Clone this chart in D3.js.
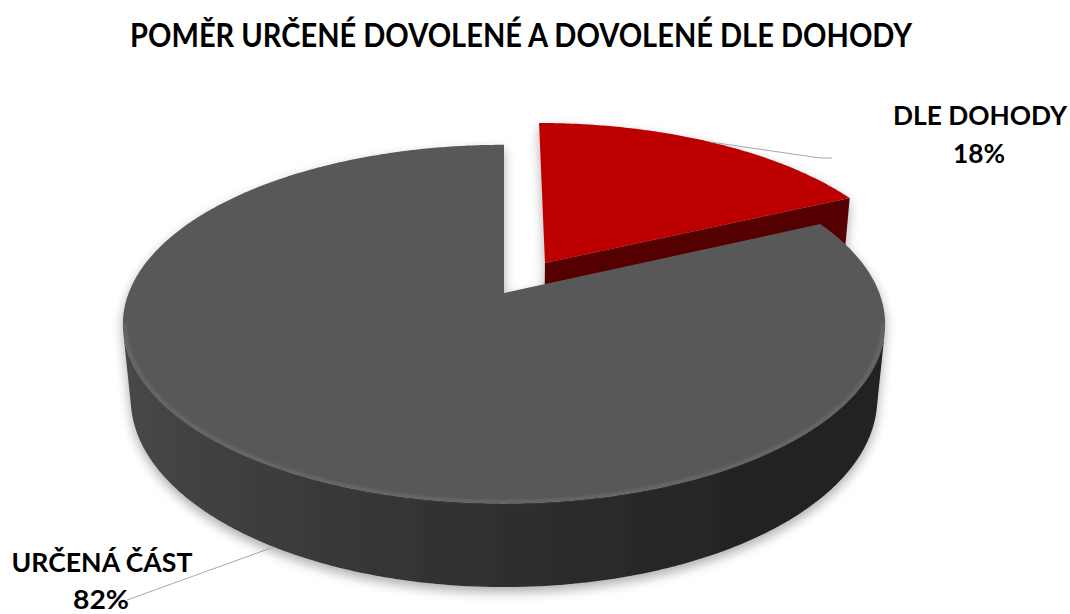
<!DOCTYPE html>
<html>
<head>
<meta charset="utf-8">
<script src="https://cdn.jsdelivr.net/npm/d3@7"></script>
<style>
  body { margin: 0; background: #fff; }
  svg { display: block; }
</style>
</head>
<body>
<div id="chart"></div>
<script>
// data
const categories = ['DLE DOHODY', 'URČENÁ ČÁST']
const values = [18, 82]
const explode = [0.21, 0]
const title = 'POMĚR URČENÉ DOVOLENÉ A DOVOLENÉ DLE DOHODY'

const topColors = ['#bc0000', '#595959']
const sideColors = ['#540000', 'url(#greySide)']

const width = 1070
const height = 614

const svg = d3
  .select('#chart')
  .append('svg')
  .attr('width', width)
  .attr('height', height)

const defs = svg.append('defs')

const grad = defs
  .append('linearGradient')
  .attr('id', 'greySide')
  .attr('gradientUnits', 'userSpaceOnUse')
  .attr('x1', 125).attr('x2', 885).attr('y1', 0).attr('y2', 0)
grad.append('stop').attr('offset', 0).attr('stop-color', '#474747')
grad.append('stop').attr('offset', 0.3).attr('stop-color', '#373737')
grad.append('stop').attr('offset', 0.6).attr('stop-color', '#2b2b2b')
grad.append('stop').attr('offset', 0.85).attr('stop-color', '#222222')
grad.append('stop').attr('offset', 1).attr('stop-color', '#202020')

const shadow = defs
  .append('filter')
  .attr('id', 'shadow')
  .attr('x', '-10%').attr('y', '-10%')
  .attr('width', '120%').attr('height', '130%')
shadow.append('feGaussianBlur').attr('in', 'SourceAlpha').attr('stdDeviation', 6)
shadow.append('feOffset').attr('dy', 5).attr('result', 'blur')
shadow.append('feComponentTransfer')
  .append('feFuncA').attr('type', 'linear').attr('slope', 0.33)
const merge = shadow.append('feMerge')
merge.append('feMergeNode')
merge.append('feMergeNode').attr('in', 'SourceGraphic')

const soft = defs.append('filter').attr('id', 'soft')
soft.append('feGaussianBlur').attr('stdDeviation', 0.8)

// simple perspective camera looking down at the pie
const tilt = 27.6 * Math.PI / 180
const camDist = 5.11
const depth = 0.226
const cx = 504
const cy = 293
const camZ = -camDist * Math.cos(tilt)
const focal = d3.scaleLinear().domain([0, 1]).range([0, 1918])

function project(X, Y, Z) {
  const up = Z * Math.sin(tilt) + Y * Math.cos(tilt)
  const w = camDist + Z * Math.cos(tilt) - Y * Math.sin(tilt)
  return [cx + focal(X / w), cy - focal(up / w)]
}

function rim(a0, a1, Y, off, r = 1) {
  const n = Math.max(2, Math.ceil(Math.abs(a1 - a0) / (Math.PI / 360)))
  return d3.range(n + 1).map(i => {
    const a = a0 + (a1 - a0) * i / n
    return project(off[0] + r * Math.sin(a), Y, off[1] + r * Math.cos(a))
  })
}

// part of the outer wall that faces the camera
function wallRange(a0, a1, off) {
  const steps = d3.range(0, 721).map(i => a0 + (a1 - a0) * i / 720)
  const seen = steps.filter(a => {
    const s = Math.sin(a), c = Math.cos(a)
    return (-off[0] - s) * s + (camZ - off[1] - c) * c > 0
  })
  return seen.length ? [d3.min(seen), d3.max(seen)] : null
}

const line = d3.line()
const poly = pts => line(pts) + 'Z'

const pie = d3.pie().sort(null).value(d => d)
const arcs = pie(values).map((d, i) => {
  const mid = (d.startAngle + d.endAngle) / 2
  d.mid = mid
  d.off = [explode[i] * Math.sin(mid), explode[i] * Math.cos(mid)]
  return d
})

// far slices first
const order = arcs.slice().sort((a, b) => Math.cos(b.mid) - Math.cos(a.mid))

const pieG = svg.append('g').attr('filter', 'url(#shadow)')

order.forEach(d => {
  const g = pieG.append('g').attr('class', 'slice')
  const a0 = d.startAngle
  const a1 = d.endAngle
  const off = d.off

  // outer wall
  const wr = wallRange(a0, a1, off)
  if (wr) {
    g.append('path')
      .attr('d', poly(rim(wr[0], wr[1], 0, off).concat(rim(wr[1], wr[0], -depth, off))))
      .attr('fill', sideColors[d.index])
  }

  // cut faces that look toward the camera
  const faces = [
    { a: a0, n: [-Math.cos(a0), Math.sin(a0)] },
    { a: a1, n: [Math.cos(a1), -Math.sin(a1)] }
  ]
  faces.forEach(f => {
    const dot = -off[0] * f.n[0] + (camZ - off[1]) * f.n[1]
    if (dot <= 0.2) return
    const pts = [
      project(off[0], 0, off[1]),
      project(off[0] + Math.sin(f.a), 0, off[1] + Math.cos(f.a)),
      project(off[0] + Math.sin(f.a), -depth, off[1] + Math.cos(f.a)),
      project(off[0], -depth, off[1])
    ]
    g.append('path')
      .attr('d', poly(pts))
      .attr('fill', d.index === 0 ? '#540000' : '#2a2a2a')
  })

  // top
  g.append('path')
    .attr('d', poly([project(off[0], 0, off[1])].concat(rim(a0, a1, 0, off))))
    .attr('fill', topColors[d.index])

  // soft bevel highlight along the front rim
  const h0 = Math.max(a0, 100 * Math.PI / 180)
  const h1 = Math.min(a1, 260 * Math.PI / 180)
  if (h1 > h0) {
    g.append('path')
      .attr('d', line(rim(h0, h1, 0, off, 0.994)))
      .attr('fill', 'none')
      .attr('stroke', '#6e6e6e')
      .attr('stroke-width', 2)
      .attr('filter', 'url(#soft)')
  }
})

// labels
const pct = d3.format('.0%')
const total = d3.sum(values)

const labels = [
  { x: 980, y: 125, w: 174, px: 979, py: 163, pw: 52, lx: 832, ly: 158 },
  { x: 102, y: 572, w: 181, px: 101, py: 609, pw: 56, lx: 127, ly: 600 }
]

arcs.forEach(d => {
  const lab = labels[d.index]
  // red label hangs off its top rim, grey one off the bottom of the wall
  const anchor = d.index === 0
    ? project(d.off[0] + Math.sin(d.mid), 0, d.off[1] + Math.cos(d.mid))
    : project(d.off[0] + Math.sin(d.mid), -depth, d.off[1] + Math.cos(d.mid))
  const pts = d.index === 0
    ? [anchor, [lab.lx - 12, lab.ly], [lab.lx, lab.ly]]
    : [anchor, [lab.lx, lab.ly]]
  svg.append('path')
    .attr('d', line(pts))
    .attr('fill', 'none')
    .attr('stroke', '#a6a6a6')
    .attr('stroke-width', 1)

  svg.append('text')
    .attr('x', lab.x)
    .attr('y', lab.y)
    .attr('text-anchor', 'middle')
    .attr('font-family', 'Lato, sans-serif')
    .attr('font-weight', 'bold')
    .attr('font-size', 27)
    .attr('textLength', lab.w)
    .attr('lengthAdjust', 'spacingAndGlyphs')
    .text(categories[d.index])

  svg.append('text')
    .attr('x', lab.px)
    .attr('y', lab.py)
    .attr('text-anchor', 'middle')
    .attr('font-family', 'Lato, sans-serif')
    .attr('font-weight', 'bold')
    .attr('font-size', 27)
    .attr('textLength', lab.pw)
    .attr('lengthAdjust', 'spacingAndGlyphs')
    .text(pct(d.value / total))
})

svg.append('text')
  .attr('x', 521)
  .attr('y', 47)
  .attr('text-anchor', 'middle')
  .attr('font-family', 'Lato, sans-serif')
  .attr('font-weight', 'bold')
  .attr('font-size', 33)
  .attr('textLength', 782)
  .attr('lengthAdjust', 'spacingAndGlyphs')
  .text(title)
</script>
</body>
</html>
